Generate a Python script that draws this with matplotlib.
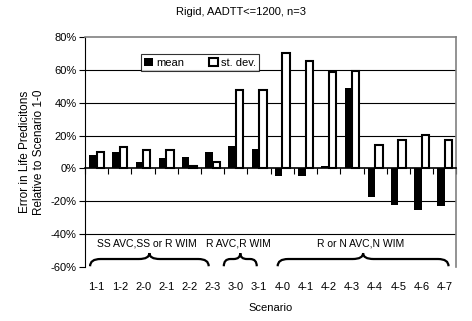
import matplotlib
matplotlib.use("Agg")
import matplotlib.pyplot as plt
import numpy as np
from matplotlib.path import Path
from matplotlib.patches import PathPatch
from matplotlib.ticker import FuncFormatter

plt.rcParams['font.family'] = ['Liberation Sans', 'DejaVu Sans']

# data
scenarios = ['1-1', '1-2', '2-0', '2-1', '2-2', '2-3', '3-0', '3-1',
             '4-0', '4-1', '4-2', '4-3', '4-4', '4-5', '4-6', '4-7']
mean_err = [8, 10, 3.7, 6.5, 7, 10, 13.5, 11.6,
            -4.7, -4.7, 1.6, 49, -17.5, -22.4, -25, -23]
sd_err = [10, 13, 11.4, 11, 1.5, 4, 48, 48,
          70, 65.5, 58.5, 59, 14.5, 17.5, 20.6, 17]

# group braces: (start, end, label)
groups = [(-0.28, 4.83, 'SS AVC,SS or R WIM'),
          (5.48, 6.9, 'R AVC,R WIM'),
          (7.8, 15.16, 'R or N AVC,N WIM')]


def draw_brace(ax, x0, x1, ylo, yhi):
    xc = (x0 + x1) / 2
    ym = ylo + (yhi - ylo) * 0.55
    r = min(0.45, (x1 - x0) / 5)
    verts = [(x0, ylo), (x0, ym), (x0 + r, ym),
             (xc - r, ym), (xc, ym), (xc, yhi),
             (xc, ym), (xc + r, ym),
             (x1 - r, ym), (x1, ym), (x1, ylo)]
    codes = [Path.MOVETO, Path.CURVE3, Path.CURVE3,
             Path.LINETO, Path.CURVE3, Path.CURVE3,
             Path.CURVE3, Path.CURVE3,
             Path.LINETO, Path.CURVE3, Path.CURVE3]
    ax.add_patch(PathPatch(Path(verts, codes), fill=False, lw=1.6,
                           edgecolor='black', clip_on=False))


fig = plt.figure(figsize=(4.72, 3.21), dpi=100)
ax = fig.add_axes([0.180, 0.168, 0.787, 0.717])

x = np.arange(len(scenarios))
w = 0.32
ax.bar(x - 0.16, mean_err, w, color='black', label='mean', zorder=3)
ax.bar(x + 0.16, sd_err, w, color='white', edgecolor='black', lw=1.5,
       label='st. dev.', zorder=3)

for g in [-40, -20, 20, 40, 60]:
    ax.axhline(g, color='black', lw=0.8, zorder=1)

ax.set_xlim(-0.5, 15.5)
ax.set_ylim(-60, 80)
ax.set_yticks(range(-60, 81, 20))
ax.yaxis.set_major_formatter(FuncFormatter(lambda v, p: f'{v:.0f}%'))
ax.tick_params(axis='y', direction='out', length=4, width=0.8, labelsize=8, pad=2)

ax.spines['bottom'].set_position(('data', 0))
ax.spines['bottom'].set_linewidth(1.2)
ax.spines['left'].set_linewidth(0.8)
for s in ['top', 'right']:
    ax.spines[s].set_color('#808080')
    ax.spines[s].set_linewidth(1.2)
ax.set_xticks(np.arange(-0.5, 15.6, 1))
ax.set_xticklabels([])
ax.tick_params(axis='x', direction='out', length=4, width=0.8)

sec = ax.secondary_xaxis(0.0)
sec.set_xticks(x)
sec.set_xticklabels(scenarios, fontsize=8)
sec.tick_params(length=0, pad=11)
sec.spines['bottom'].set_visible(False)
sec.set_xlabel('Scenario', fontsize=8, labelpad=8)

for x0, x1, lab in groups:
    draw_brace(ax, x0, x1, -59.5, -51.5)
    ax.text((x0 + x1) / 2 - 0.1, -45.5, lab, ha='center', va='center', fontsize=7.5)

ax.set_ylabel('Error in Life Predicitons\nRelative to Scenario 1-0', fontsize=8.5)

leg = ax.legend(loc='upper left', bbox_to_anchor=(0.150, 0.925), ncol=2,
                fontsize=8, frameon=True, fancybox=False, handlelength=0.8,
                handleheight=0.8, handletextpad=0.3, columnspacing=2.2,
                borderpad=0.3, borderaxespad=0)
leg.get_frame().set_edgecolor('black')
leg.get_frame().set_linewidth(0.8)

fig.text(0.51, 0.962, 'Rigid, AADTT<=1200, n=3', ha='center', va='center', fontsize=8)

fig.savefig('out.png', dpi=100)
